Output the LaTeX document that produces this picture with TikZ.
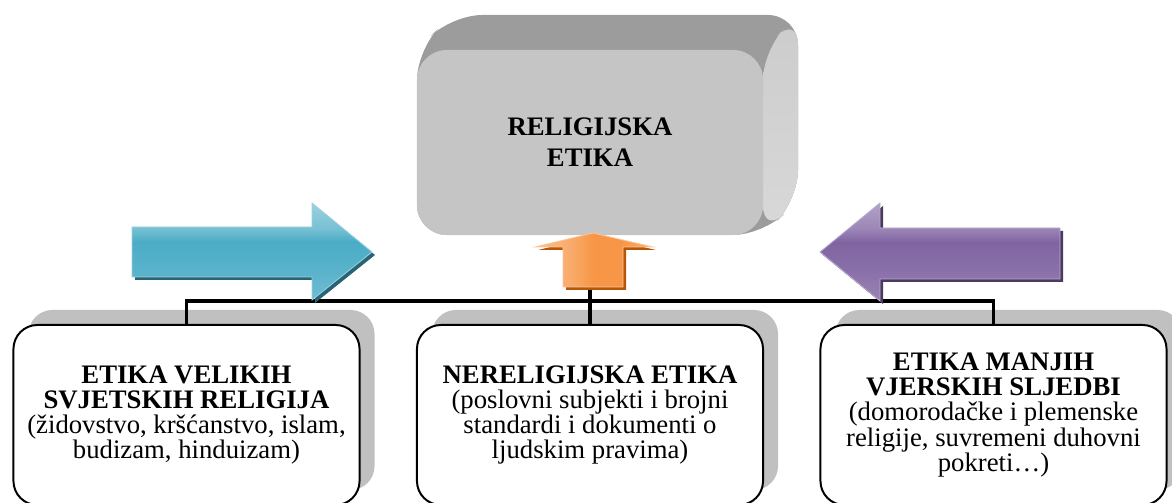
\documentclass[tikz,border=0pt]{standalone}
\usepackage{fontspec}
\setmainfont{Liberation Serif}
\usetikzlibrary{positioning, calc}

\definecolor{frontgray}{RGB}{197,197,197}
\definecolor{topgray}{RGB}{156,156,156}
\definecolor{sidegray}{RGB}{226,226,226}
\definecolor{shadowgray}{RGB}{192,192,192}
\definecolor{tealarrow}{RGB}{75,172,198}
\definecolor{tealdark}{RGB}{40,100,116}
\definecolor{violetarrow}{RGB}{128,100,162}
\definecolor{violetdark}{RGB}{76,58,98}
\definecolor{orangearrow}{RGB}{247,150,70}
\definecolor{orangedark}{RGB}{182,87,8}

% band shadings for the block arrows
\pgfdeclareverticalshading{tealband}{100bp}{color(0bp)=(tealarrow!80!white); color(25bp)=(tealarrow!80!white);
    color(40bp)=(tealarrow!92!white); color(55bp)=(tealarrow); color(62bp)=(tealarrow!75!white);
    color(75bp)=(tealarrow!55!white); color(100bp)=(tealarrow!55!white)}
\pgfdeclareverticalshading{violetband}{100bp}{color(0bp)=(violetarrow!80!white); color(25bp)=(violetarrow!80!white);
    color(40bp)=(violetarrow!92!white); color(55bp)=(violetarrow); color(62bp)=(violetarrow!78!white);
    color(75bp)=(violetarrow!60!white); color(100bp)=(violetarrow!60!white)}
\pgfdeclarehorizontalshading{orangeband}{100bp}{color(0bp)=(orangearrow!60!white); color(25bp)=(orangearrow!60!white);
    color(40bp)=(orangearrow!80!white); color(50bp)=(orangearrow); color(62bp)=(orangearrow);
    color(75bp)=(orangearrow!75!white); color(100bp)=(orangearrow!75!white)}

\begin{document}
\begin{tikzpicture}[x=0.025cm, y=-0.025cm]
    % --- Style Definitions ---
    \tikzset{
        top box/.style={
            fill=frontgray,
            rounded corners=0.75cm,
            minimum width=8.65cm,
            minimum height=4.625cm,
            align=center,
            font=\fontsize{19}{22}\selectfont\bfseries
        },
        sub box/.style={
            draw=black,
            line width=1.4pt,
            fill=white,
            rounded corners=0.6cm,
            minimum width=8.65cm,
            minimum height=4.5cm,
            inner sep=0pt,
            align=center,
            font=\fontsize{19}{18}\selectfont
        },
        sub shadow/.style={
            fill=shadowgray,
            rounded corners=0.6cm,
            minimum width=8.65cm,
            minimum height=4.5cm
        },
        bus line/.style={
            line width=2.8pt,
            black
        },
        block arrow/.style={
            draw=#1!55!white,
            line width=0.6pt,
            line join=miter
        }
    }
    \useasboundingbox (0,0) rectangle (1172,503);
    \clip (0,0) rectangle (1172,503);

    % --- 1. Top block (3D) ---
    \fill[topgray, rounded corners=0.75cm]
        (417,235) -- (417,50) -- (452,15) -- (798,15) -- (798,200) -- (763,235) -- cycle;
    \shade[top color=gray!40, middle color=sidegray, bottom color=sidegray!90!gray, rounded corners=0.75cm]
        (763,50) -- (798,15) -- (798,200) -- (763,235) -- cycle;
    \node[top box] (rel) at (590,142.5) {RELIGIJSKA\\ETIKA};

    % --- 2. Bottom boxes with shadows ---
    \node[sub shadow] (velike shadow) at (201.5,400) {};
    \node[sub shadow] (nerel shadow) at (605,400) {};
    \node[sub shadow] (manje shadow) at (1008.5,400) {};

    \node[sub box] (velike) at (186.5,415) {\textbf{ETIKA VELIKIH}\\\textbf{SVJETSKIH RELIGIJA}\\(židovstvo, kršćanstvo, islam,\\budizam, hinduizam)};
    \node[sub box] (nerel) at (590,415) {\textbf{NERELIGIJSKA ETIKA}\\(poslovni subjekti i brojni\\standardi i dokumenti o\\ljudskim pravima)};
    \node[sub box] (manje) at (993.5,415) {\textbf{ETIKA MANJIH}\\\textbf{VJERSKIH SLJEDBI}\\(domorodačke i plemenske\\religije, suvremeni duhovni\\pokreti…)};

    % --- 3. Connecting lines ---
    \coordinate (upfoot) at (590,287);
    \draw[bus line] (velike.north) -- ++(0,-23) -| (manje.north);
    \draw[bus line] (nerel.north) -- (upfoot);

    % --- 4. Block arrows ---
    % left arrow
    \fill[tealdark] (135,230) -- (315,230) -- (315,206) -- (375,255) -- (315,303) -- (315,280) -- (135,280) -- cycle;
    \shade[block arrow=tealarrow, shading=tealband]
        (132,227) -- (312,227) -- (312,203) -- (372,252) -- (312,300) -- (312,277) -- (132,277) -- cycle;
    % right arrow
    \fill[violetdark] (823,255) -- (883,206) -- (883,231) -- (1063,231) -- (1063,282) -- (883,282) -- (883,304) -- cycle;
    \shade[block arrow=violetarrow, shading=violetband]
        (820,252) -- (880,203) -- (880,228) -- (1060,228) -- (1060,279) -- (880,279) -- (880,301) -- cycle;
    % middle arrow
    \fill[orangedark] (596,236) -- (656,250) -- (626,250) -- (626,290) -- (566,290) -- (566,250) -- (538,250) -- cycle;
    \shade[block arrow=orangearrow, shading=orangeband]
        (593,233) -- (653,247) -- (623,247) -- (623,287) -- (563,287) -- (563,247) -- (535,247) -- cycle;

\end{tikzpicture}
\end{document}
